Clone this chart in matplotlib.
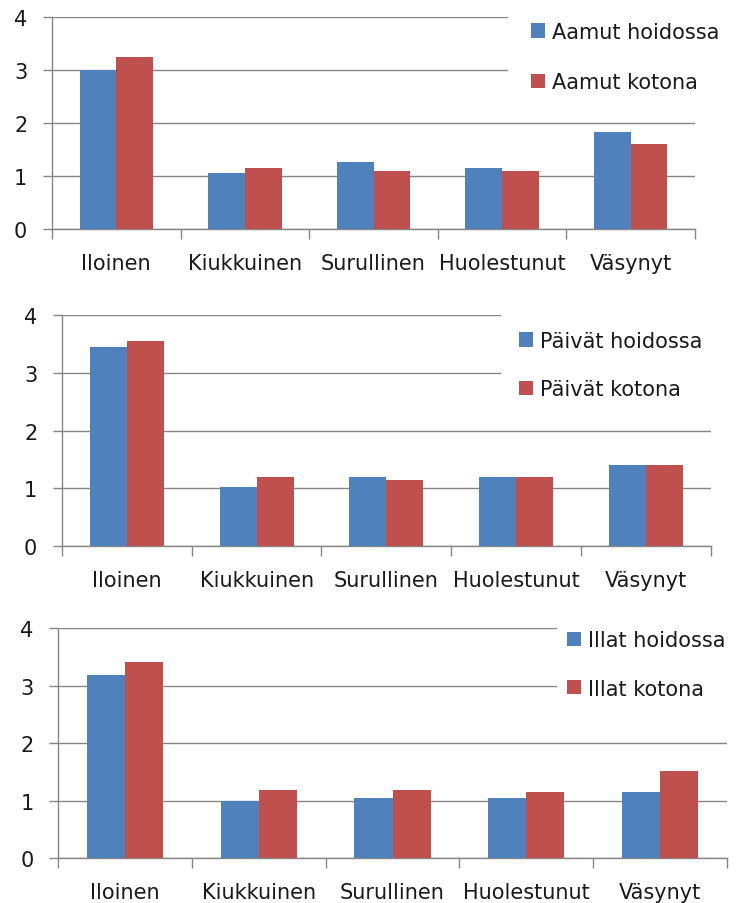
import numpy as np
import matplotlib.pyplot as plt
from matplotlib.patches import Patch, Rectangle

categories = ['Iloinen', 'Kiukkuinen', 'Surullinen', 'Huolestunut', 'Väsynyt']

aamut_hoidossa = [3.00, 1.05, 1.26, 1.14, 1.82]
aamut_kotona = [3.25, 1.14, 1.10, 1.10, 1.60]

paivat_hoidossa = [3.45, 1.03, 1.19, 1.19, 1.40]
paivat_kotona = [3.55, 1.19, 1.15, 1.19, 1.40]

illat_hoidossa = [3.18, 1.00, 1.05, 1.05, 1.15]
illat_kotona = [3.42, 1.19, 1.19, 1.15, 1.51]

series_labels = [
    ('Aamut hoidossa', 'Aamut kotona'),
    ('Päivät hoidossa', 'Päivät kotona'),
    ('Illat hoidossa', 'Illat kotona'),
]

BLUE = '#4F81BD'
RED = '#C0504D'
GRID = '#868686'
TEXT = '#1a1a1a'

W, H = 737, 904
DPI = 100
FS = 15
FS_PX = FS * DPI / 72

plt.rcParams['font.family'] = ['DejaVu Sans']


def px_box(left, right, top, bottom):
    return [left / W, 1 - bottom / H, (right - left) / W, (bottom - top) / H]


def draw_panel(fig, box, hoidossa, kotona, labels, legend_pos, legend_pad, row_gap):
    ax = fig.add_axes(px_box(*box))
    x = np.arange(len(categories))
    bw = 1 / 3.5
    ax.bar(x - bw / 2, hoidossa, bw, color=BLUE, zorder=3)
    ax.bar(x + bw / 2, kotona, bw, color=RED, zorder=3)

    ax.set_xlim(-0.5, len(categories) - 0.5)
    ax.set_ylim(0, 4)
    ax.set_yticks([0, 1, 2, 3, 4])
    ax.set_xticks(np.arange(len(categories) + 1) - 0.5)
    ax.set_xticklabels([])
    ax.set_xticks(x, minor=True)
    ax.set_xticklabels(categories, minor=True)

    ax.yaxis.grid(True, color=GRID, linewidth=1.0, zorder=0)
    ax.set_axisbelow(True)
    for s in ['top', 'right']:
        ax.spines[s].set_visible(False)
    for s in ['left', 'bottom']:
        ax.spines[s].set_color(GRID)
        ax.spines[s].set_linewidth(1.0)

    ax.tick_params(axis='x', which='major', length=7, width=1.0, color=GRID, direction='out')
    ax.tick_params(axis='x', which='minor', length=0, pad=17, labelsize=FS, labelcolor=TEXT)
    ax.tick_params(axis='y', length=6.3, width=1.0, color=GRID, direction='out',
                   pad=11.5, labelsize=FS, labelcolor=TEXT)

    handles = [Patch(facecolor=BLUE), Patch(facecolor=RED)]
    sq_left, row_center = legend_pos
    pad_px = legend_pad * FS_PX
    half = 0.49 * FS_PX
    frame_left = sq_left - pad_px
    frame_top = row_center - half - pad_px
    frame_bottom = row_center + row_gap + half + pad_px
    cover = Rectangle((frame_left / W, 1 - frame_bottom / H), (W - frame_left) / W,
                      (frame_bottom - frame_top) / H, transform=fig.transFigure,
                      facecolor='white', edgecolor='none', clip_on=False, zorder=4)
    ax.add_patch(cover)

    spacing = (row_gap - 0.91 * FS_PX) / FS_PX
    leg = ax.legend(handles, labels, loc='upper left',
                    bbox_to_anchor=(frame_left / W, 1 - frame_top / H),
                    bbox_transform=fig.transFigure, borderaxespad=0,
                    borderpad=legend_pad, fontsize=FS, handlelength=0.68,
                    handleheight=0.66, handletextpad=0.33, labelspacing=spacing,
                    frameon=False)
    leg.set_zorder(5)
    for t in leg.get_texts():
        t.set_color(TEXT)
    return ax


def main():
    fig = plt.figure(figsize=(W / DPI, H / DPI), dpi=DPI)

    draw_panel(fig, (52, 695, 17.7, 230), aamut_hoidossa, aamut_kotona,
               series_labels[0], (531, 33), 1.1, 49)
    draw_panel(fig, (62, 710.7, 316, 547), paivat_hoidossa, paivat_kotona,
               series_labels[1], (519, 342), 0.86, 47)
    draw_panel(fig, (58.3, 726.7, 629.3, 859.3), illat_hoidossa, illat_kotona,
               series_labels[2], (567.3, 641.7), 0.5, 47)

    fig.savefig('out.png', dpi=DPI)


if __name__ == "__main__":
    main()
